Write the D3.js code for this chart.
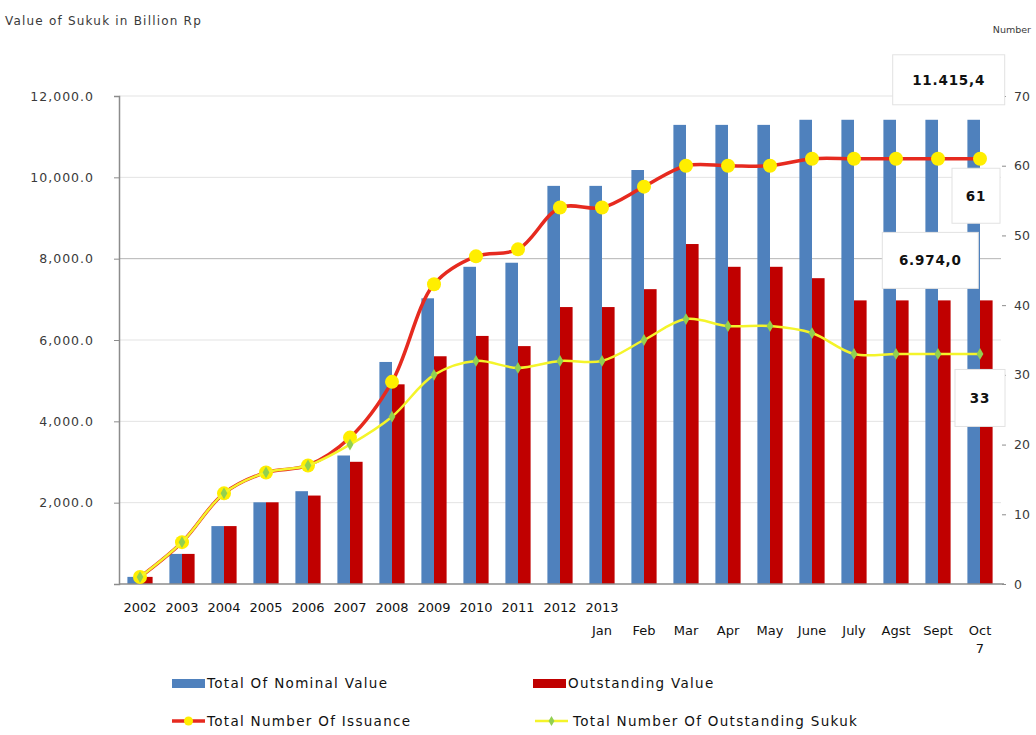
<!DOCTYPE html>
<html>
<head>
<meta charset="utf-8">
<script src="https://cdn.jsdelivr.net/npm/d3@7"></script>
<style>
  html, body { margin: 0; padding: 0; background: #ffffff; }
  svg { display: block; font-family: "DejaVu Sans", "Liberation Sans", sans-serif; }
</style>
</head>
<body>
<svg id="chart" width="1036" height="735"></svg>
<script>
// Categories: yearly totals 2002-2012, then monthly figures for 2013
const categories = ["2002","2003","2004","2005","2006","2007","2008","2009","2010","2011","2012",
  "Jan","Feb","Mar","Apr","May","June","July","Agst","Sept","Oct"];
// Multi-line tick labels for each category
const tickLabels = [["2002"],["2003"],["2004"],["2005"],["2006"],["2007"],["2008"],["2009"],["2010"],["2011"],["2012"],
  ["2013","Jan"],["","Feb"],["","Mar"],["","Apr"],["","May"],["","June"],["","July"],["","Agst"],["","Sept"],["","Oct","7"]];

// Values in billion Rp (left axis)
const nominalValue = [175, 740, 1424, 2009, 2282, 3160, 5460, 7025, 7800, 7900, 9790,
  9790, 10180, 11290, 11290, 11290, 11415.4, 11415.4, 11415.4, 11415.4, 11415.4];
const outstandingValue = [175, 740, 1424, 2009, 2175, 3005, 4910, 5600, 6100, 5850, 6810,
  6810, 7250, 8360, 7800, 7800, 7520, 6974.0, 6974.0, 6974.0, 6974.0];

// Counts (right axis)
const issuanceCount = [1, 6, 13, 16, 17, 21, 29, 43, 47, 48, 54, 54, 57, 60, 60, 60, 61, 61, 61, 61, 61];
const outstandingCount = [1, 6, 13, 16, 17, 20, 24, 30, 32, 31, 32, 32, 35, 38, 37, 37, 36, 33, 33, 33, 33];

const leftTicks = [2000, 4000, 6000, 8000, 10000, 12000];
const rightTicks = [0, 10, 20, 30, 40, 50, 60, 70];

const svg = d3.select("#chart");
const plot = { left: 119, right: 1001, top: 96, bottom: 584 };

const x = d3.scaleBand().domain(categories).range([plot.left, plot.right])
  .paddingInner(0.4).paddingOuter(0.2);
const xSub = d3.scaleBand().domain(["nominal", "outstanding"]).range([0, x.bandwidth()]);
const yL = d3.scaleLinear().domain([0, 12000]).range([plot.bottom, plot.top]);
const yR = d3.scaleLinear().domain([0, 70]).range([plot.bottom, plot.top]);
const cx = c => x(c) + x.bandwidth() / 2;

const fmtAxis = d3.format(",.1f");
const idLocale = d3.formatLocale({ decimal: ",", thousands: ".", grouping: [3], currency: ["", ""] });
const fmtLabel = idLocale.format(",.1f");

const COL = {
  blue: "#4f81bd", darkRed: "#c00000", line: "#e62a1f", marker: "#ffee00",
  yellowLine: "#f4f42a", green: "#92d050", grid: "#e3e3e3", axis: "#8c8c8c", text: "#3a3a3a"
};

// Horizontal gridlines; the 8,000 line is drawn a little stronger
svg.append("g").selectAll("line").data(leftTicks).join("line")
  .attr("x1", plot.left).attr("x2", plot.right)
  .attr("y1", d => yL(d)).attr("y2", d => yL(d))
  .attr("stroke", d => d === 8000 ? "#b5b5b5" : COL.grid).attr("stroke-width", 1);

// Bars
const barG = svg.append("g");
barG.selectAll("rect.nom").data(categories).join("rect").attr("class", "nom")
  .attr("x", c => x(c) + xSub("nominal")).attr("width", xSub.bandwidth())
  .attr("y", (c, i) => yL(nominalValue[i])).attr("height", (c, i) => yL(0) - yL(nominalValue[i]))
  .attr("fill", COL.blue);
barG.selectAll("rect.out").data(categories).join("rect").attr("class", "out")
  .attr("x", c => x(c) + xSub("outstanding")).attr("width", xSub.bandwidth())
  .attr("y", (c, i) => yL(outstandingValue[i])).attr("height", (c, i) => yL(0) - yL(outstandingValue[i]))
  .attr("fill", COL.darkRed);

// Left axis
const leftAxis = d3.axisLeft(yL).tickValues([0, ...leftTicks]).tickSize(5).tickPadding(20)
  .tickFormat(d => d === 0 ? "" : fmtAxis(d));
const gL = svg.append("g").attr("transform", `translate(${plot.left},0)`).call(leftAxis);
gL.select(".domain").attr("stroke", COL.axis).attr("stroke-width", 1.5);
gL.selectAll(".tick line").attr("stroke", COL.axis);
gL.selectAll(".tick text").attr("fill", COL.text).style("font-size", "12.5px")
  .style("font-family", "DejaVu Sans").style("letter-spacing", "1px");

// Right axis (ticks and labels only)
const rightAxis = d3.axisRight(yR).tickValues(rightTicks).tickSize(4).tickPadding(8).tickFormat(d3.format("d"));
const gR = svg.append("g").attr("transform", `translate(${plot.right + 1},0)`).call(rightAxis);
gR.select(".domain").remove();
gR.selectAll(".tick line").attr("stroke", COL.axis);
gR.selectAll(".tick text").attr("fill", COL.text).style("font-size", "12.5px").style("font-family", "DejaVu Sans");

// Category axis
svg.append("line").attr("x1", plot.left).attr("x2", plot.right + 3)
  .attr("y1", plot.bottom).attr("y2", plot.bottom).attr("stroke", COL.axis).attr("stroke-width", 1.5);
const xLab = svg.append("g").selectAll("text").data(categories).join("text")
  .attr("x", c => cx(c)).attr("y", 612).attr("text-anchor", "middle")
  .attr("fill", "#111").style("font-size", "13px");
xLab.each(function (c, i) {
  const t = d3.select(this);
  tickLabels[i].forEach((line, k) => {
    t.append("tspan").attr("x", cx(c)).attr("dy", k === 0 ? 0 : (k === 1 ? 23 : 18)).text(line);
  });
});

// Lines
const lineGen = arr => d3.line()
  .x((d, i) => cx(categories[i])).y(d => yR(d))
  .curve(d3.curveCatmullRom.alpha(0.5))(arr);

svg.append("path").attr("d", lineGen(issuanceCount)).attr("fill", "none")
  .attr("stroke", COL.line).attr("stroke-width", 3.5).attr("stroke-linejoin", "round");
svg.append("g").selectAll("circle").data(issuanceCount).join("circle")
  .attr("cx", (d, i) => cx(categories[i])).attr("cy", d => yR(d)).attr("r", 7)
  .attr("fill", COL.marker);

svg.append("path").attr("d", lineGen(outstandingCount)).attr("fill", "none")
  .attr("stroke", COL.yellowLine).attr("stroke-width", 2.5).attr("stroke-linejoin", "round");
const diamond = d3.symbol().type(d3.symbolDiamond).size(40);
svg.append("g").selectAll("path").data(outstandingCount).join("path")
  .attr("d", diamond).attr("transform", (d, i) => `translate(${cx(categories[i])},${yR(d)})`)
  .attr("fill", COL.green);

// Data labels for the latest month
const last = categories.length - 1;
const lc = categories[last];
const labels = [
  { text: fmtLabel(nominalValue[last]), x: x(lc) + xSub("nominal") + xSub.bandwidth() / 2 - 25, y: yL(nominalValue[last]) - 40, w: 112, h: 50 },
  { text: String(issuanceCount[last]), x: cx(lc) - 4, y: yR(issuanceCount[last]) + 37, w: 48, h: 55 },
  { text: fmtLabel(outstandingValue[last]), x: x(lc) + xSub("outstanding") + xSub.bandwidth() / 2 - 56, y: yL(outstandingValue[last]) - 40, w: 96, h: 56 },
  { text: String(outstandingCount[last]), x: cx(lc) + 0, y: yR(outstandingCount[last]) + 44, w: 50, h: 57 }
];
const lg = svg.append("g").selectAll("g").data(labels).join("g");
lg.append("rect").attr("x", d => d.x - d.w / 2).attr("y", d => d.y - d.h / 2)
  .attr("width", d => d.w).attr("height", d => d.h)
  .attr("fill", "#ffffff").attr("stroke", "#e2e2e2").attr("stroke-width", 1);
lg.append("text").attr("x", d => d.x).attr("y", d => d.y + 5).attr("text-anchor", "middle")
  .attr("fill", "#111").style("font-size", "13.5px").style("font-weight", "bold")
  .style("letter-spacing", "0.8px").text(d => d.text);

// Axis titles
svg.append("text").attr("x", 5).attr("y", 25).attr("fill", COL.text).style("font-size", "12px")
  .style("letter-spacing", "1.2px").text("Value of Sukuk in Billion Rp");
svg.append("text").attr("x", 1031).attr("y", 33).attr("text-anchor", "end").attr("fill", COL.text)
  .style("font-size", "9.5px").text("Number");

// Legend
const legend = svg.append("g").style("font-size", "13.5px").style("letter-spacing", "1.3px").attr("fill", "#111");
const legItems = [
  { label: "Total Of Nominal Value", kind: "bar", color: COL.blue, x: 172, y: 683 },
  { label: "Outstanding Value", kind: "bar", color: COL.darkRed, x: 533, y: 683 },
  { label: "Total Number Of Issuance", kind: "issuance", x: 172, y: 721 },
  { label: "Total Number Of Outstanding Sukuk", kind: "outstanding", x: 535, y: 721 }
];
legItems.forEach(it => {
  const g = legend.append("g");
  if (it.kind === "bar") {
    g.append("rect").attr("x", it.x).attr("y", it.y - 4).attr("width", 33).attr("height", 9).attr("fill", it.color);
  } else if (it.kind === "issuance") {
    g.append("line").attr("x1", it.x).attr("x2", it.x + 33).attr("y1", it.y).attr("y2", it.y)
      .attr("stroke", COL.line).attr("stroke-width", 3.5);
    g.append("circle").attr("cx", it.x + 16.5).attr("cy", it.y).attr("r", 4.5).attr("fill", COL.marker);
  } else {
    g.append("line").attr("x1", it.x).attr("x2", it.x + 33).attr("y1", it.y).attr("y2", it.y)
      .attr("stroke", COL.yellowLine).attr("stroke-width", 2.5);
    g.append("path").attr("d", d3.symbol().type(d3.symbolDiamond).size(30)())
      .attr("transform", `translate(${it.x + 16.5},${it.y})`).attr("fill", COL.green);
  }
  g.append("text").attr("x", it.x + (it.kind === "outstanding" ? 38 : 35)).attr("y", it.y + 5).text(it.label);
});
</script>
</body>
</html>
